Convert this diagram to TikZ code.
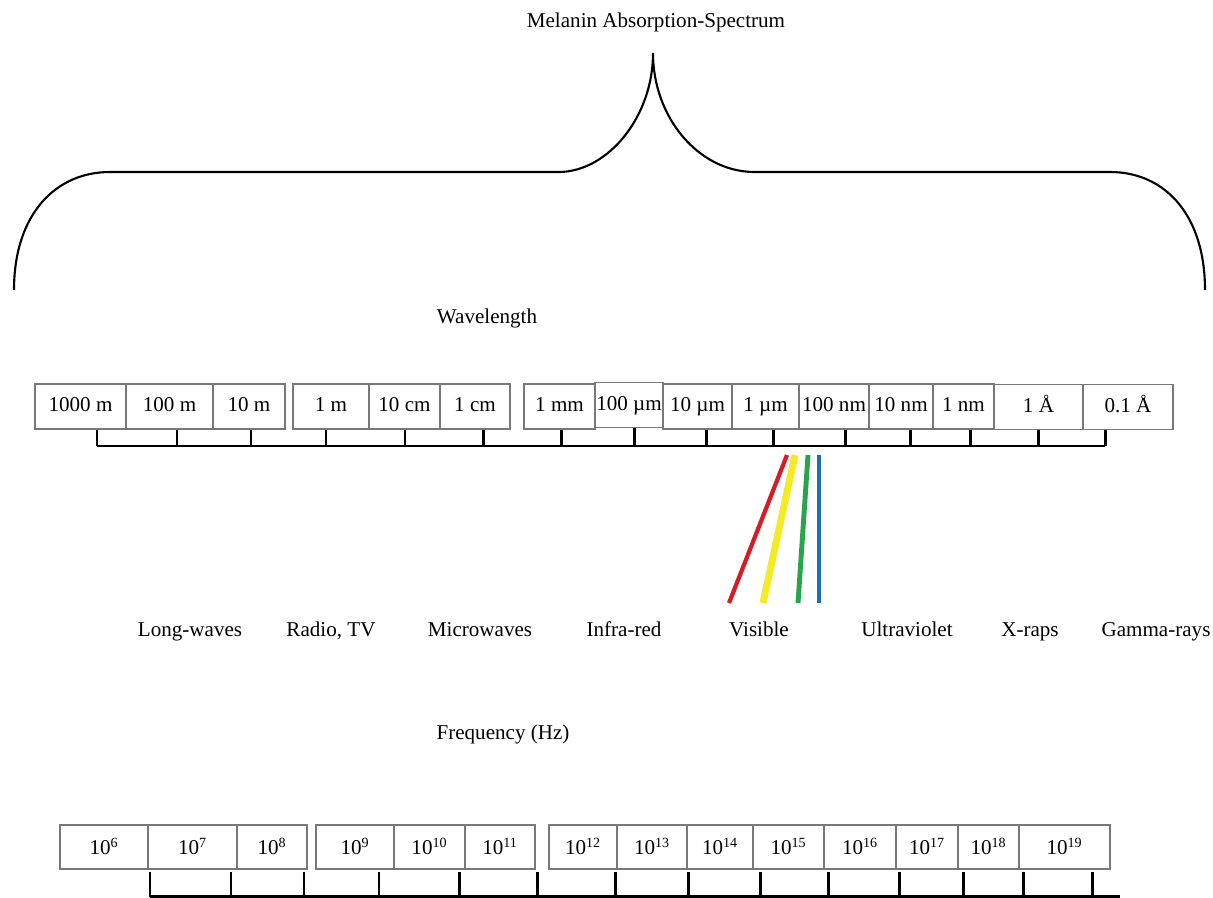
\documentclass[tikz,border=0pt]{standalone}
\usepackage{fontspec}
\setmainfont{Liberation Serif}
\usepackage{tikz}
\definecolor{boxgray}{RGB}{120,120,120}
\definecolor{red3}{RGB}{214,28,36}
\definecolor{yellow3}{RGB}{245,234,40}
\definecolor{green3}{RGB}{40,165,75}
\definecolor{blue3}{RGB}{30,110,180}
\newcommand{\hz}[1]{10\textsuperscript{#1}}

\begin{document}
\begin{tikzpicture}[x=0.02cm,y=-0.02cm,
    every node/.style={font=\fontsize{12pt}{14pt}\selectfont},
    wbox/.style={draw=boxgray,line width=0.9pt,fill=white,minimum height=0.9cm,inner sep=0pt,text height=8.5pt,text depth=2.5pt},
    fbox/.style={draw=boxgray,line width=0.9pt,fill=white,minimum height=0.88cm,inner sep=0pt,text height=10pt,text depth=1pt},
    ruler/.style={line width=1.7pt,black},
    label/.style={anchor=base}]
    \useasboundingbox (0,0) rectangle (1213,898);

    \node[label] (title) at (656,28) {Melanin Absorption-Spectrum};
    \draw[line width=1.2pt] (14,290) .. controls (14,215) and (55,172) .. (110,172) -- (560,172)
        .. controls (608,171) and (653,117) .. (653,53)
        .. controls (653,117) and (698,171) .. (753,172) -- (1110,172)
        .. controls (1165,172) and (1205,215) .. (1205,290);

    \node[label] (wavelength) at (487,324) {Wavelength};

    \draw[ruler] (97,446) -- (1105,446);
    \foreach \x in {97,177,251,326,405,483,561,634,706,773,845,910,970,1038,1105}
        \draw[ruler] (\x,428) -- (\x,446);

    \node[wbox,minimum width=1.82cm] (w1) at (80.5,406.5) {1000 m};
    \node[wbox,minimum width=1.74cm] (w2) at (169.5,406.5) {100 m};
    \node[wbox,minimum width=1.44cm] (w3) at (249,406.5) {10 m};
    \node[wbox,minimum width=1.52cm] (w4) at (331,406.5) {1 m};
    \node[wbox,minimum width=1.42cm] (w5) at (404.5,406.5) {10 cm};
    \node[wbox,minimum width=1.40cm] (w6) at (475,406.5) {1 cm};
    \node[wbox,minimum width=1.42cm] (w7) at (559.5,406.5) {1 mm};
    \node[wbox,minimum width=1.36cm] (w8) at (629,405) {100 µm};
    \node[wbox,minimum width=1.38cm] (w9) at (697.5,406.5) {10 µm};
    \node[wbox,minimum width=1.34cm] (w10) at (765.5,406.5) {1 µm};
    \node[wbox,minimum width=1.40cm] (w11) at (834,406.5) {100 nm};
    \node[wbox,minimum width=1.28cm] (w12) at (901,406.5) {10 nm};
    \node[wbox,minimum width=1.22cm] (w13) at (963.5,406.5) {1 nm};
    \node[wbox,minimum width=1.78cm] (w14) at (1038.5,407) {1 Å};
    \node[wbox,minimum width=1.80cm] (w15) at (1128,407) {0.1 Å};

    \draw[red3,line width=2.4pt] (787,455) -- (729,603);
    \draw[yellow3,line width=4pt] (795,455) -- (763,603);
    \draw[green3,line width=2.8pt] (808,455) -- (798,603);
    \draw[blue3,line width=2.4pt] (819,455) -- (819,603);

    \node[label] (long) at (190,636) {Long-waves};
    \node[label] (radio) at (331,636) {Radio, TV};
    \node[label] (micro) at (480,636) {Microwaves};
    \node[label] (infra) at (624,636) {Infra-red};
    \node[label] (visible) at (759,636) {Visible};
    \node[label] (uv) at (907,636) {Ultraviolet};
    \node[label] (xray) at (1030,636) {X-raps};
    \node[label] (gamma) at (1156,636) {Gamma-rays};

    \node[label] (frequency) at (503,739) {Frequency (Hz)};

    \draw[ruler] (150,896.5) -- (1120,896.5);
    \foreach \x in {150,231,304,379,459,537,615,688,760,828,899,963,1023,1092}
        \draw[ruler] (\x,872) -- (\x,896.5);

    \node[fbox,minimum width=1.76cm] (f6) at (104,847) {\hz{6}};
    \node[fbox,minimum width=1.78cm] (f7) at (192.5,847) {\hz{7}};
    \node[fbox,minimum width=1.40cm] (f8) at (272,847) {\hz{8}};
    \node[fbox,minimum width=1.56cm] (f9) at (355,847) {\hz{9}};
    \node[fbox,minimum width=1.42cm] (f10) at (429.5,847) {\hz{10}};
    \node[fbox,minimum width=1.40cm] (f11) at (500,847) {\hz{11}};
    \node[fbox,minimum width=1.36cm] (f12) at (583,847) {\hz{12}};
    \node[fbox,minimum width=1.40cm] (f13) at (652,847) {\hz{13}};
    \node[fbox,minimum width=1.32cm] (f14) at (720,847) {\hz{14}};
    \node[fbox,minimum width=1.42cm] (f15) at (788.5,847) {\hz{15}};
    \node[fbox,minimum width=1.44cm] (f16) at (860,847) {\hz{16}};
    \node[fbox,minimum width=1.24cm] (f17) at (927,847) {\hz{17}};
    \node[fbox,minimum width=1.22cm] (f18) at (988.5,847) {\hz{18}};
    \node[fbox,minimum width=1.82cm] (f19) at (1064.5,847) {\hz{19}};
\end{tikzpicture}
\end{document}
